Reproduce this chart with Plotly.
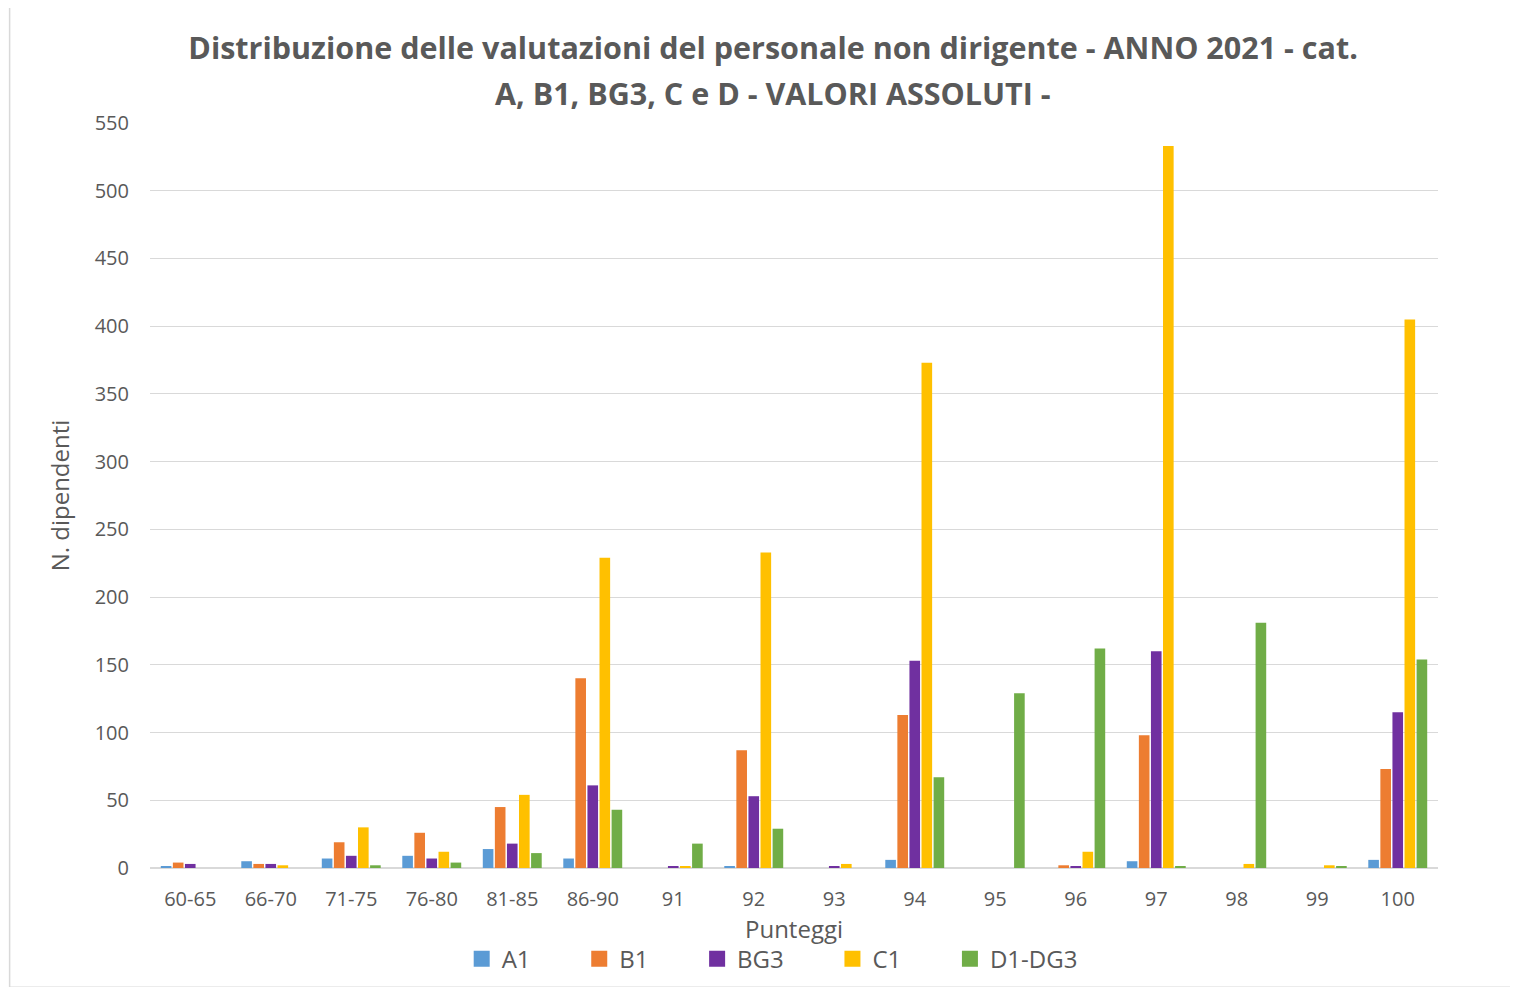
import plotly.graph_objects as go

categories = ["60-65", "66-70", "71-75", "76-80", "81-85", "86-90", "91", "92",
              "93", "94", "95", "96", "97", "98", "99", "100"]

a1 =     [1, 5, 7, 9, 14, 7, 0, 1, 0, 6, 0, 0, 5, 0, 0, 6]
b1 =     [4, 3, 19, 26, 45, 140, 0, 87, 0, 113, 0, 2, 98, 0, 0, 73]
bg3 =    [3, 3, 9, 7, 18, 61, 1, 53, 1, 153, 0, 1, 160, 0, 0, 115]
c1 =     [0, 2, 30, 12, 54, 229, 1, 233, 3, 373, 0, 12, 533, 3, 2, 405]
d1_dg3 = [0, 0, 2, 4, 11, 43, 18, 29, 0, 67, 129, 162, 1, 181, 1, 154]

series = [
    ("A1", a1, "#5b9bd5"),
    ("B1", b1, "#ed7d31"),
    ("BG3", bg3, "#7030a0"),
    ("C1", c1, "#ffc000"),
    ("D1-DG3", d1_dg3, "#70ad47"),
]

TEXT = "#595959"
GRID = "#d9d9d9"
FONT = "Open Sans, Lato, sans-serif"
PAD = "\u00a0" * 7

fig = go.Figure()
for name, vals, color in series:
    fig.add_trace(go.Bar(
        x=categories, y=vals, name=name, showlegend=False,
        marker=dict(color=color, line=dict(width=0)),
    ))
# legend entries with bigger square swatches
for name, vals, color in series:
    fig.add_trace(go.Scatter(
        x=[None], y=[None], name=name + PAD, mode="markers",
        marker=dict(symbol="square", size=16, color=color),
    ))

fig.update_layout(
    width=1518, height=987,
    paper_bgcolor="white", plot_bgcolor="white",
    font=dict(family=FONT, color=TEXT),
    margin=dict(l=142, r=88, t=115, b=127),
    title=dict(
        text="<b>Distribuzione delle valutazioni del personale non dirigente - ANNO 2021 - cat.</b>",
        x=0.504, xanchor="center", y=0.9595, yanchor="middle",
        font=dict(size=30.5, color=TEXT, family=FONT),
    ),
    annotations=[dict(
        text="<b>A, B1, BG3, C e D - VALORI ASSOLUTI -</b>",
        xref="paper", yref="paper", x=0.484, y=1.040,
        xanchor="center", yanchor="middle", showarrow=False,
        font=dict(size=30.5, color=TEXT, family=FONT),
    )],
    barmode="group",
    bargap=0.25,
    bargroupgap=0.12,
    xaxis=dict(
        title=dict(text="Punteggi", font=dict(size=24, color=TEXT), standoff=8),
        tickfont=dict(size=20, color=TEXT),
        ticklabelstandoff=13,
        showline=True, linecolor=GRID, linewidth=1,
        showgrid=False, ticks="",
    ),
    yaxis=dict(
        title=dict(text="N. dipendenti", font=dict(size=24, color=TEXT), standoff=18),
        range=[0, 550], dtick=50,
        tickfont=dict(size=20, color=TEXT),
        ticklabelstandoff=20,
        gridcolor=GRID, gridwidth=1,
        zeroline=True, zerolinecolor=GRID,
        ticks="",
    ),
    legend=dict(
        orientation="h", x=0.242, xanchor="left", y=-0.092, yanchor="top",
        font=dict(size=24, color=TEXT),
        itemwidth=30, itemsizing="trace",
    ),
    shapes=[dict(
        type="rect", xref="paper", yref="paper",
        x0=-0.109, x1=1.061, y0=-0.16, y1=1.158,
        line=dict(color=GRID, width=1.5), layer="below",
    )],
)

fig.write_html("out.html")
